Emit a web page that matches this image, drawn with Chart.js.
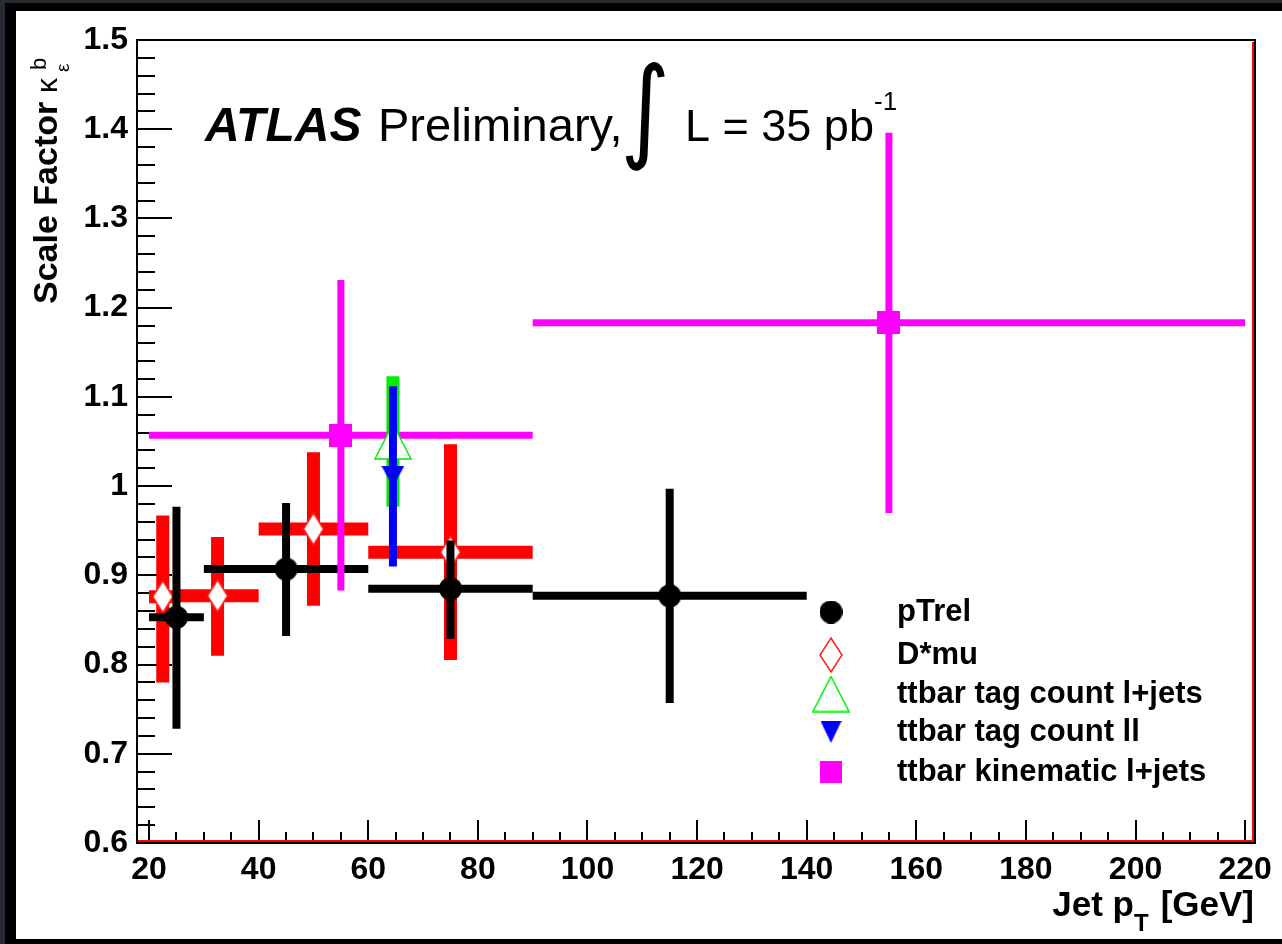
<!DOCTYPE html>
<html>
<head>
<meta charset="utf-8">
<script src="https://cdn.jsdelivr.net/npm/chart.js@4.4.1/dist/chart.umd.min.js"></script>
<style>
  html, body { margin: 0; padding: 0; background: #fff; }
  canvas { display: block; }
</style>
</head>
<body>
<canvas id="sf" width="1282" height="944"></canvas>
<script>
// axis ticks
const xTicks = [20, 40, 60, 80, 100, 120, 140, 160, 180, 200, 220];
const yTicks = [0.6, 0.7, 0.8, 0.9, 1.0, 1.1, 1.2, 1.3, 1.4, 1.5];
const yTickLabels = ['0.6', '0.7', '0.8', '0.9', '1', '1.1', '1.2', '1.3', '1.4', '1.5'];

// pTrel
const ptrelX = [25, 45, 75, 115];
const ptrelXLo = [20, 30, 60, 90];
const ptrelXHi = [30, 60, 90, 140];
const ptrelSF = [0.853, 0.907, 0.885, 0.877];
const ptrelUp = [0.124, 0.074, 0.054, 0.120];
const ptrelDn = [0.125, 0.075, 0.056, 0.120];

// D*mu
const dmuX = [22.5, 32.5, 50, 75];
const dmuXLo = [20, 25, 40, 60];
const dmuXHi = [25, 40, 60, 90];
const dmuSF = [0.876, 0.877, 0.952, 0.926];
const dmuUp = [0.091, 0.066, 0.086, 0.121];
const dmuDn = [0.096, 0.067, 0.086, 0.121];

// ttbar tag counting l+jets
const tcLjX = [64.5];
const tcLjSF = [1.05];
const tcLjErr = [0.073];

// ttbar tag counting ll
const tcLlX = [64.5];
const tcLlSF = [1.011];
const tcLlErr = [0.101];

// ttbar kinematic l+jets
const kinX = [55, 155];
const kinXLo = [20, 90];
const kinXHi = [90, 220];
const kinSF = [1.057, 1.183];
const kinErr = [0.174, 0.213];

const FONT = '"Liberation Sans", Arial, Helvetica, sans-serif';

function marker(w, h, draw) {
  const c = document.createElement('canvas');
  c.width = w; c.height = h;
  draw(c.getContext('2d'), w, h);
  return c;
}
function dot(d) {
  return marker(d, d, (g, w) => {
    g.fillStyle = '#000';
    g.beginPath(); g.arc(w / 2, w / 2, w / 2, 0, 2 * Math.PI); g.fill();
  });
}
function diamond(w, h) {
  return marker(w, h, (g) => {
    g.fillStyle = '#fff'; g.strokeStyle = '#ff2020'; g.lineWidth = 1.5;
    g.beginPath();
    g.moveTo(w / 2, 1); g.lineTo(w - 1, h / 2); g.lineTo(w / 2, h - 1); g.lineTo(1, h / 2);
    g.closePath(); g.fill(); g.stroke();
  });
}
function triUp(w, h) {
  return marker(w, h, (g) => {
    g.fillStyle = '#fff'; g.strokeStyle = '#00ee00'; g.lineWidth = 1.5;
    g.beginPath();
    g.moveTo(w / 2, 1); g.lineTo(w - 1, h - 1); g.lineTo(1, h - 1);
    g.closePath(); g.fill(); g.stroke();
  });
}
function triDown(w, h) {
  return marker(w, h, (g) => {
    g.fillStyle = '#0000ff';
    g.beginPath();
    g.moveTo(0, 0); g.lineTo(w, 0); g.lineTo(w / 2, h);
    g.closePath(); g.fill();
  });
}
function square(s) {
  return marker(s, s, (g) => { g.fillStyle = '#ff00ff'; g.fillRect(0, 0, s, s); });
}

function points(xs, ys, up, dn, lo, hi) {
  return xs.map((x, i) => ({
    x: x, y: ys[i], up: up[i], dn: dn[i],
    xLo: lo ? lo[i] : undefined, xHi: hi ? hi[i] : undefined
  }));
}

// error bars are drawn right before each dataset, so layering follows dataset order
const errorBars = {
  id: 'errorBars',
  beforeDatasetDraw(chart, args) {
    const ds = chart.data.datasets[args.index];
    const sx = chart.scales.x, sy = chart.scales.y;
    const ctx = chart.ctx;
    ctx.save();
    ctx.strokeStyle = ds.barColor;
    ctx.lineWidth = ds.barWidth;
    ds.data.forEach(p => {
      const px = sx.getPixelForValue(p.x), py = sy.getPixelForValue(p.y);
      ctx.beginPath();
      if (p.xLo !== undefined) {
        ctx.moveTo(sx.getPixelForValue(p.xLo), py);
        ctx.lineTo(sx.getPixelForValue(p.xHi), py);
      }
      ctx.moveTo(px, sy.getPixelForValue(p.y + p.up));
      ctx.lineTo(px, sy.getPixelForValue(p.y - p.dn));
      ctx.stroke();
    });
    ctx.restore();
  }
};

const frame = {
  id: 'frame',
  beforeDraw(chart) {
    const ctx = chart.ctx;
    ctx.save();
    ctx.fillStyle = '#262b31';
    ctx.fillRect(0, 0, 1282, 944);
    ctx.fillStyle = '#000';
    ctx.fillRect(5, 3, 1277, 941);
    ctx.fillStyle = '#fff';
    ctx.fillRect(16, 11, 1266, 928);
    ctx.restore();
  },
  beforeDatasetsDraw(chart) {
    const ctx = chart.ctx, a = chart.chartArea;
    const sx = chart.scales.x, sy = chart.scales.y;
    ctx.save();
    ctx.strokeStyle = '#000';
    ctx.lineWidth = 2;
    ctx.strokeRect(a.left, a.top, a.right - a.left, a.bottom - a.top);
    ctx.beginPath();
    for (let k = 0; k <= 40; k++) {
      const px = Math.round(sx.getPixelForValue(20 + 5 * k));
      const len = k % 4 === 0 ? 23 : 11;
      ctx.moveTo(px, a.bottom); ctx.lineTo(px, a.bottom - len);
    }
    for (let k = 0; k <= 45; k++) {
      const py = Math.round(sy.getPixelForValue(0.6 + 0.02 * k));
      const len = k % 5 === 0 ? 35 : 18;
      ctx.moveTo(a.left, py); ctx.lineTo(a.left + len, py);
    }
    ctx.stroke();
    ctx.restore();
  },
  afterDatasetsDraw(chart) {
    const ctx = chart.ctx, a = chart.chartArea;
    ctx.save();
    ctx.strokeStyle = '#ff0000';
    ctx.lineWidth = 2;
    ctx.beginPath();
    ctx.moveTo(a.left + 1, a.bottom - 2); ctx.lineTo(a.right - 2, a.bottom - 2);
    ctx.lineTo(a.right - 2, a.top + 2);
    ctx.stroke();
    ctx.restore();
  }
};

const legendRows = [
  { m: dot(23), label: 'pTrel', y: 612 },
  { m: diamond(24, 36), label: 'D*mu', y: 655 },
  { m: triUp(38, 37), label: 'ttbar tag count l+jets', y: 694 },
  { m: triDown(21, 22), label: 'ttbar tag count ll', y: 732 },
  { m: square(22), label: 'ttbar kinematic l+jets', y: 772 }
];

const texts = {
  id: 'texts',
  afterDraw(chart) {
    const ctx = chart.ctx;
    ctx.save();
    ctx.fillStyle = '#000';

    // legend
    ctx.font = 'bold 31px ' + FONT;
    ctx.textBaseline = 'middle';
    legendRows.forEach(r => {
      ctx.drawImage(r.m, 831 - r.m.width / 2, r.y - r.m.height / 2);
      ctx.fillText(r.label, 897, r.y);
    });

    // ATLAS label
    ctx.textBaseline = 'alphabetic';
    ctx.font = 'italic bold 48px ' + FONT;
    ctx.fillText('ATLAS', 205, 141);
    ctx.font = '47px ' + FONT;
    ctx.fillText('Preliminary,', 378, 141);
    ctx.font = '45px ' + FONT;
    ctx.fillText('L = 35 pb', 685, 141);
    ctx.font = '26px ' + FONT;
    ctx.fillText('-1', 874, 110);
    // integral sign scaled into its box
    ctx.font = '100px "DejaVu Sans", ' + FONT;
    const m = ctx.measureText('\u222B');
    const gh = m.actualBoundingBoxAscent + m.actualBoundingBoxDescent;
    const gw = m.actualBoundingBoxLeft + m.actualBoundingBoxRight;
    const top = 62, bot = 172, cx = 645;
    const s = (bot - top) / gh;
    ctx.save();
    ctx.translate(cx - (gw / 2 - m.actualBoundingBoxLeft) * s * 0.85, top + m.actualBoundingBoxAscent * s);
    ctx.scale(s * 0.85, s);
    ctx.fillText('\u222B', 0, 0);
    ctx.restore();

    // x title
    ctx.font = 'bold 35px ' + FONT;
    ctx.textAlign = 'right';
    ctx.fillText('[GeV]', 1254, 916);
    const wg = ctx.measureText('[GeV]').width;
    ctx.font = 'bold 24px ' + FONT;
    const wt = ctx.measureText('T').width;
    ctx.fillText('T', 1254 - wg - 12, 931);
    ctx.font = 'bold 35px ' + FONT;
    ctx.fillText('Jet p', 1254 - wg - 12 - wt, 916);

    // y title
    ctx.textAlign = 'left';
    ctx.translate(57, 304);
    ctx.rotate(-Math.PI / 2);
    ctx.font = 'bold 34px ' + FONT;
    ctx.fillText('Scale Factor', 0, 0);
    ctx.font = '30px ' + FONT;
    ctx.fillText('\u03BA', 211, 0);
    ctx.font = '19px ' + FONT;
    ctx.fillText('\u03B5', 232, 12);
    ctx.font = '22px ' + FONT;
    ctx.fillText('b', 234, -11);
    ctx.restore();
  }
};

new Chart(document.getElementById('sf'), {
  type: 'scatter',
  data: {
    datasets: [
      {
        label: 'pTrel', order: 4,
        data: points(ptrelX, ptrelSF, ptrelUp, ptrelDn, ptrelXLo, ptrelXHi),
        pointStyle: dot(23), barColor: '#000', barWidth: 8
      },
      {
        label: 'D*mu', order: 5,
        data: points(dmuX, dmuSF, dmuUp, dmuDn, dmuXLo, dmuXHi),
        pointStyle: diamond(22, 34), barColor: '#ff0000', barWidth: 13
      },
      {
        label: 'ttbar tag count l+jets', order: 2,
        data: points(tcLjX, tcLjSF, tcLjErr, tcLjErr),
        pointStyle: triUp(38, 37), barColor: '#00ee00', barWidth: 13
      },
      {
        label: 'ttbar tag count ll', order: 1,
        data: points(tcLlX, tcLlSF, tcLlErr, tcLlErr),
        pointStyle: triDown(23, 21), barColor: '#0000ff', barWidth: 8
      },
      {
        label: 'ttbar kinematic l+jets', order: 3,
        data: points(kinX, kinSF, kinErr, kinErr, kinXLo, kinXHi),
        pointStyle: square(23), barColor: '#ff00ff', barWidth: 7
      }
    ]
  },
  options: {
    responsive: false,
    animation: false,
    events: [],
    layout: { padding: { left: 0, top: 40, right: 27, bottom: 0 } },
    plugins: { legend: { display: false }, tooltip: { enabled: false } },
    scales: {
      x: {
        type: 'linear', min: 17.8, max: 221.8,
        afterFit: s => { s.height = 101; },
        afterBuildTicks: s => { s.ticks = xTicks.map(v => ({ value: v })); },
        grid: { display: false, drawTicks: false },
        border: { display: false },
        ticks: {
          autoSkip: false, maxRotation: 0, padding: 8, color: '#000',
          font: { family: FONT, size: 32, weight: 'bold' }
        }
      },
      y: {
        type: 'linear', min: 0.6, max: 1.5,
        afterFit: s => { s.width = 137; },
        afterBuildTicks: s => { s.ticks = yTicks.map(v => ({ value: v })); },
        grid: { display: false, drawTicks: false },
        border: { display: false },
        ticks: {
          autoSkip: false, padding: 9, color: '#000',
          font: { family: FONT, size: 32, weight: 'bold' },
          callback: (v, i) => yTickLabels[i]
        }
      }
    }
  },
  plugins: [frame, errorBars, texts]
});
</script>
</body>
</html>
